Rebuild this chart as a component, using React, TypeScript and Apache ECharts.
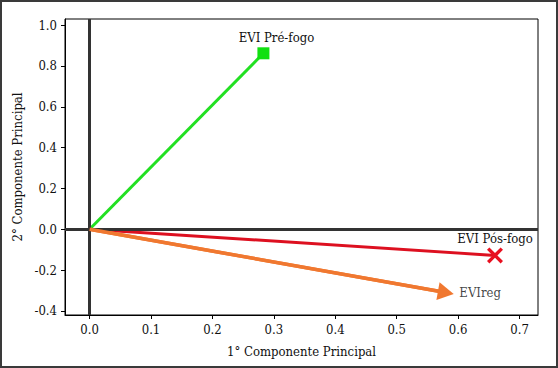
import React, { useEffect, useRef } from "react";
import * as echarts from "echarts";

const xTicks = [0, 0.1, 0.2, 0.3, 0.4, 0.5, 0.6, 0.7];
const yTicks = [-0.4, -0.2, 0, 0.2, 0.4, 0.6, 0.8, 1.0];
const preFogo = [0.283, 0.862];
const posFogo = [0.66, -0.128];
const eviReg = [0.58, -0.31];
const names = ["EVI Pré-fogo", "EVI Pós-fogo", "EVIreg"];

const FONT = "DejaVu Serif Condensed, DejaVu Serif";

export default function App() {
  const ref = useRef<HTMLDivElement>(null);
  useEffect(() => {
    const chart = echarts.init(ref.current!, null, { renderer: "svg" });
    const crossPath =
      "path://M0,1.5L1.5,0L5,3.5L8.5,0L10,1.5L6.5,5L10,8.5L8.5,10L5,6.5L1.5,10L0,8.5L3.5,5Z";
    chart.setOption({
      animation: false,
      backgroundColor: "#fff",
      textStyle: { fontFamily: FONT },
      grid: {
        left: 65,
        top: 19,
        right: 20,
        bottom: 53,
        show: true,
        borderColor: "#000",
        borderWidth: 1,
      },
      graphic: [
        {
          type: "rect",
          shape: { x: 1, y: 1, width: 556, height: 366 },
          style: { fill: "none", stroke: "#3a3a3a", lineWidth: 2 },
          silent: true,
        },
      ],
      xAxis: {
        type: "value",
        min: -0.04,
        max: 0.73,
        name: "1° Componente Principal",
        nameLocation: "middle",
        nameGap: 30,
        nameTextStyle: { fontFamily: FONT, fontSize: 13, color: "#111" },
        axisLine: { show: true, onZero: false, lineStyle: { color: "#000", width: 1 } },
        axisTick: { show: true, length: 4, customValues: xTicks, lineStyle: { color: "#000" } },
        axisLabel: {
          customValues: xTicks,
          formatter: (v: number) => v.toFixed(1),
          fontFamily: FONT,
          fontSize: 13,
          color: "#111",
          margin: 8,
        },
        splitLine: { show: false },
      },
      yAxis: {
        type: "value",
        min: -0.42,
        max: 1.03,
        name: "2° Componente Principal",
        nameLocation: "middle",
        nameGap: 39,
        nameRotate: 90,
        nameTextStyle: { fontFamily: FONT, fontSize: 13, color: "#111" },
        axisLine: { show: true, onZero: false, lineStyle: { color: "#000", width: 1 } },
        axisTick: { show: true, length: 4, customValues: yTicks, lineStyle: { color: "#000" } },
        axisLabel: {
          customValues: yTicks,
          formatter: (v: number) => v.toFixed(1),
          fontFamily: FONT,
          fontSize: 13,
          color: "#111",
          margin: 8,
        },
        splitLine: { show: false },
      },
      series: [
        {
          type: "line",
          data: [],
          silent: true,
          markLine: {
            silent: true,
            symbol: ["none", "none"],
            label: { show: false },
            lineStyle: { color: "#333", width: 3, type: "solid" },
            data: [{ xAxis: 0 }, { yAxis: 0 }],
          },
        },
        {
          type: "line",
          z: 3,
          showSymbol: true,
          lineStyle: { color: "#22e022", width: 3 },
          itemStyle: { color: "#11e011" },
          data: [
            { value: [0, 0], symbol: "none" },
            {
              value: preFogo,
              symbol: "rect",
              symbolSize: 12,
              label: {
                show: true,
                formatter: names[0],
                position: "top",
                distance: 3,
                offset: [13, 0],
                fontFamily: FONT,
                fontSize: 13,
                color: "#111",
              },
            },
          ],
        },
        {
          type: "line",
          z: 3,
          showSymbol: true,
          lineStyle: { color: "#dd1020", width: 3 },
          itemStyle: { color: "#e81020" },
          data: [
            { value: [0, 0], symbol: "none" },
            {
              value: posFogo,
              symbol: crossPath,
              symbolSize: 16,
              label: {
                show: true,
                formatter: names[1],
                position: "top",
                distance: 2,
                offset: [0, 0],
                fontFamily: FONT,
                fontSize: 13,
                color: "#111",
              },
            },
          ],
        },
        {
          type: "line",
          z: 3,
          showSymbol: false,
          lineStyle: { color: "#f07830", width: 3.5 },
          itemStyle: { color: "#f07830" },
          data: [[0, 0], eviReg],
          markLine: {
            silent: true,
            symbol: ["none", "triangle"],
            symbolSize: [18, 16],
            label: { show: false },
            lineStyle: { color: "#f07830", width: 3.5, type: "solid" },
            data: [[{ coord: [0, 0] }, { coord: eviReg }]],
          },
        },
        {
          type: "scatter",
          z: 4,
          symbol: "circle",
          symbolSize: 1,
          itemStyle: { color: "rgba(0,0,0,0)" },
          data: [
            {
              value: eviReg,
              label: {
                show: true,
                formatter: names[2],
                position: "right",
                distance: 13,
                fontFamily: FONT,
                fontSize: 13,
                color: "#111",
              },
            },
          ],
        },
      ],
    });
    return () => chart.dispose();
  }, []);
  return (
    <div
      ref={ref}
      style={{ position: "fixed", left: 0, top: 0, width: 558, height: 368 }}
    />
  );
}
